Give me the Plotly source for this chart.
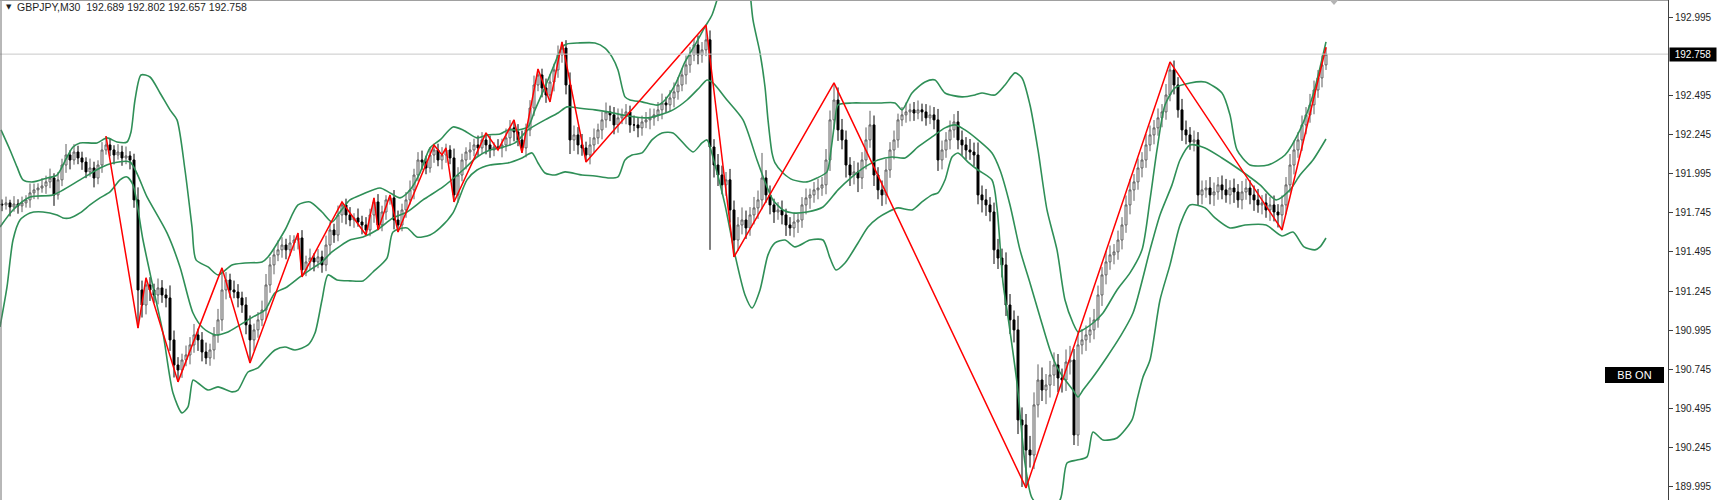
import plotly.graph_objects as go

# ---------------- data (GBPJPY, M30) ----------------
closes = [
 191.795, 191.808, 191.782, 191.801, 191.789, 191.808, 191.827, 191.872, 191.891, 191.903, 191.916, 191.942, 191.967, 191.859, 191.955, 192.050, 192.114, 192.082, 192.133, 192.095,
 192.069, 192.006, 192.031, 191.967, 192.050, 192.146, 192.178, 192.146, 192.114, 192.133, 192.095, 192.108, 192.082, 191.827, 191.252, 191.156, 191.284, 191.252, 191.220, 191.265,
 191.220, 191.201, 190.933, 190.773, 190.741, 190.805, 190.837, 190.901, 190.965, 190.933, 190.856, 190.818, 190.869, 190.965, 191.061, 191.252, 191.316, 191.252, 191.239, 191.201,
 191.156, 191.029, 190.933, 190.997, 191.061, 191.124, 191.284, 191.412, 191.476, 191.508, 191.539, 191.508, 191.552, 191.571, 191.584, 191.380, 191.431, 191.456, 191.431, 191.463,
 191.412, 191.539, 191.635, 191.603, 191.731, 191.795, 191.731, 191.699, 191.712, 191.686, 191.667, 191.635, 191.731, 191.814, 191.667, 191.750, 191.827, 191.840, 191.699, 191.667,
 191.763, 191.827, 191.891, 191.986, 192.082, 192.069, 192.031, 192.114, 192.146, 192.082, 192.114, 192.146, 192.095, 191.859, 191.986, 192.082, 192.133, 192.146, 192.178, 192.159,
 192.210, 192.178, 192.146, 192.165, 192.159, 192.178, 192.223, 192.287, 192.261, 192.210, 192.159, 192.274, 192.414, 192.561, 192.625, 192.542, 192.497, 192.580, 192.657, 192.753,
 192.797, 192.561, 192.210, 192.242, 192.178, 192.159, 192.114, 192.178, 192.223, 192.274, 192.338, 192.389, 192.370, 192.306, 192.351, 192.370, 192.389, 192.306, 192.306, 192.287,
 192.325, 192.338, 192.351, 192.370, 192.402, 192.446, 192.434, 192.478, 192.517, 192.561, 192.625, 192.689, 192.753, 192.817, 192.753, 192.785, 192.849, 192.165, 192.050, 191.986,
 191.923, 191.955, 191.763, 191.571, 191.667, 191.699, 191.648, 191.731, 191.776, 191.827, 191.967, 191.859, 191.795, 191.750, 191.763, 191.731, 191.667, 191.648, 191.686, 191.699,
 191.795, 191.840, 191.859, 191.891, 191.903, 191.923, 192.082, 192.338, 192.465, 192.274, 192.210, 192.050, 191.986, 192.006, 191.967, 192.082, 192.210, 192.306, 191.986, 191.891,
 191.859, 192.018, 192.146, 192.210, 192.338, 192.370, 192.389, 192.402, 192.382, 192.402, 192.389, 192.351, 192.370, 192.338, 192.082, 192.146, 192.210, 192.274, 192.325, 192.210,
 192.178, 192.146, 192.133, 192.114, 191.859, 191.827, 191.795, 191.750, 191.508, 191.456, 191.412, 191.156, 191.061, 190.997, 190.422, 190.390, 190.230, 190.198, 190.518, 190.677,
 190.613, 190.645, 190.709, 190.773, 190.690, 190.677, 190.792, 190.805, 190.326, 190.901, 190.933, 190.965, 190.997, 191.061, 191.220, 191.348, 191.431, 191.476, 191.495, 191.571,
 191.667, 191.795, 191.891, 191.942, 192.031, 192.082, 192.178, 192.242, 192.287, 192.351, 192.389, 192.497, 192.657, 192.561, 192.402, 192.274, 192.242, 192.197, 192.210, 191.859,
 191.891, 191.903, 191.859, 191.878, 191.923, 191.891, 191.859, 191.903, 191.878, 191.827, 191.878, 191.903, 191.859, 191.827, 191.795, 191.808, 191.763, 191.795, 191.750, 191.731,
 191.795, 191.923, 192.050, 192.146, 192.210, 192.306, 192.370, 192.434, 192.529, 192.606, 192.689, 192.758,
]
first_open = 191.800

# wick sizes in pips (upper / lower shadow beyond the body)
wick_up = [
 3,4,2,5,3,4,3,6,4,3,5,4,6,3,5,4,7,3,5,4,
 4,3,6,4,3,5,6,4,3,5,4,6,3,4,8,6,7,5,4,6,
 5,4,8,6,5,4,6,5,7,4,5,6,4,5,7,6,5,4,6,5,
 4,5,6,4,5,6,7,5,4,6,5,4,5,3,4,5,4,6,3,5,
 4,6,5,4,6,3,4,5,3,6,4,5,4,3,5,4,3,4,5,6,
 4,5,6,4,5,6,4,5,3,4,5,4,3,6,5,4,3,5,4,6,
 5,4,6,3,5,4,6,5,4,5,6,4,5,6,5,4,6,5,4,6,
 6,5,8,6,5,7,4,5,6,4,5,6,4,5,6,4,5,4,6,5,
 4,5,6,4,5,6,4,5,6,5,4,6,5,4,6,5,8,6,5,7,
 6,5,7,6,5,8,6,5,7,6,12,5,6,4,5,6,4,5,6,4,
 5,6,4,5,6,5,7,6,6,8,7,6,5,7,6,5,8,9,6,5,
 6,7,5,6,4,5,6,4,5,6,4,5,6,5,7,6,5,6,5,7,
 6,5,7,6,8,6,7,5,6,7,6,8,7,6,9,8,7,9,8,10,
 8,7,9,8,7,6,8,9,7,8,7,6,8,7,6,5,7,6,5,6,
 5,6,7,5,6,5,7,6,5,6,5,7,4,6,5,7,6,5,6,5,
 6,5,7,6,5,6,7,5,6,5,7,6,5,6,7,5,6,5,6,5,
 6,5,7,6,5,6,5,7,6,5,6,4,
]
wick_dn = [
 4,3,6,3,5,4,3,5,4,6,3,5,4,7,3,4,5,6,3,4,
 5,4,3,6,4,5,3,4,6,3,5,4,6,5,12,8,6,7,5,6,
 5,6,7,8,6,5,4,6,5,7,6,4,5,6,5,7,6,5,4,6,
 5,6,4,7,5,4,6,5,6,4,5,6,4,5,6,5,4,5,6,4,
 5,4,6,5,4,5,6,4,5,3,6,5,4,5,6,4,5,3,6,5,
 4,5,3,6,4,5,4,3,5,4,6,5,4,8,5,4,6,5,4,5,
 4,6,5,4,5,6,4,5,6,4,5,6,4,5,4,6,5,4,6,5,
 5,6,9,7,6,5,7,6,5,4,6,5,4,6,5,4,6,5,4,6,
 5,4,6,5,4,6,5,4,6,5,4,6,5,4,6,5,4,16,8,7,
 6,7,8,6,7,6,7,5,6,7,6,5,6,7,5,6,7,5,6,7,
 5,6,7,5,6,5,6,7,6,7,6,8,7,6,9,7,6,5,7,6,
 7,6,5,6,5,4,5,6,5,4,6,5,4,6,7,6,5,6,5,6,
 7,6,5,7,6,8,7,6,9,7,8,7,9,8,9,10,9,8,9,8,
 7,9,8,7,9,8,7,8,9,7,6,7,5,6,5,7,6,5,6,5,
 6,5,6,7,5,6,5,4,6,5,6,5,4,6,5,7,6,5,6,7,
 6,5,6,7,5,6,5,6,7,5,6,5,6,7,5,6,5,7,6,8,
 7,6,5,6,5,7,6,5,6,5,6,5,
]
# extremes (candle index -> price)
high_read = {26: 192.235, 36: 191.330, 55: 191.393, 74: 191.616, 85: 191.814, 93: 191.840,
             97: 191.859, 108: 192.178, 121: 192.255, 128: 192.338, 134: 192.663, 140: 192.836,
             176: 192.944, 190: 192.127, 208: 192.574, 292: 192.708, 331: 192.802}
low_read = {34: 191.009, 44: 190.665, 62: 190.786, 75: 191.335, 91: 191.603, 94: 191.635,
            99: 191.622, 113: 191.814, 124: 192.146, 130: 192.127, 137: 192.453, 146: 192.069,
            177: 191.508, 183: 191.463, 255: 189.994, 256: 189.988, 268: 190.262, 320: 191.635,
            331: 192.657}

# ZigZag swing points
zz_idx = [26, 34, 36, 44, 55, 62, 74, 75, 85, 91, 93, 94, 97, 99, 108, 110, 111, 113, 121, 124,
          128, 130, 134, 137, 140, 146, 176, 183, 208, 256, 292, 320, 331]
zz_price = [192.235, 191.009, 191.330, 190.665, 191.393, 190.786, 191.616, 191.335, 191.814, 191.603,
            191.840, 191.635, 191.859, 191.622, 192.178, 192.114, 192.159, 191.814, 192.255, 192.146,
            192.338, 192.127, 192.663, 192.453, 192.836, 192.069, 192.944, 191.463, 192.574, 189.988,
            192.708, 191.635, 192.802]

# Bollinger Bands (read points)
ub_i = [-0.25, 2, 3.75, 5.25, 7.75, 11.25, 13.75, 16.25, 17.75, 19.5, 23.75, 26.25, 28.75, 31.25, 32.25, 33.25, 34.75, 37, 39.5, 42,
        43.75, 45.75, 47.5, 48.5, 51.5, 54, 57.5, 60.75, 65, 66.5, 70.75, 74, 77, 80, 82.5, 84.5, 87, 90.25, 94.5, 97,
        99.5, 102, 104.5, 107, 109.5, 112.75, 115.25, 118.75, 121.25, 124.5, 126.5, 129, 131.5, 133.25, 135.75, 138.25, 140, 141.25, 144, 148.25,
        150.75, 152.5, 154, 155.75, 157, 160, 164, 165.75, 168.25, 170.75, 173.25, 175.75, 177.5, 179.5, 182, 184.5, 186.5, 187.75, 189.5, 190.75,
        191.5, 192.5, 193.25, 195.25, 197.75, 201.25, 203.75, 206.25, 207.25, 208.25, 209, 212.5, 215.75, 219.5, 223.25, 225, 227.5, 230.75, 233.25, 235.75,
        240, 243.25, 245, 248.25, 250.75, 253.25, 255, 257, 259, 261.25, 263.75, 265.75, 267.75, 269, 270.25, 272.75, 275.25, 278.75, 282, 285,
        287, 288.75, 290.75, 293.25, 297, 300.75, 305, 307, 308.75, 312, 316.5, 320.75, 324.5, 327.75, 331]
ub_p = [192.274, 192.146, 192.038, 191.955, 191.942, 191.967, 191.986, 192.101, 192.165, 192.191, 192.191, 192.223, 192.197, 192.197, 192.261, 192.465, 192.625, 192.612, 192.510, 192.402,
        192.338, 192.018, 191.654, 191.444, 191.399, 191.348, 191.412, 191.424, 191.431, 191.463, 191.635, 191.795, 191.814, 191.750, 191.686, 191.750, 191.827, 191.865, 191.903, 191.872,
        191.840, 191.891, 192.000, 192.159, 192.210, 192.293, 192.274, 192.223, 192.242, 192.248, 192.274, 192.274, 192.293, 192.402, 192.548, 192.702, 192.804, 192.823, 192.829, 192.829,
        192.797, 192.740, 192.657, 192.485, 192.465, 192.453, 192.433, 192.465, 192.561, 192.708, 192.817, 192.932, 193.008, 193.168, 193.391, 193.455, 193.264, 192.976, 192.766, 192.548,
        192.338, 192.127, 192.063, 191.999, 191.955, 191.942, 191.967, 192.006, 192.146, 192.338, 192.433, 192.446, 192.446, 192.446, 192.446, 192.402, 192.510, 192.580, 192.593, 192.510,
        192.485, 192.497, 192.510, 192.497, 192.561, 192.638, 192.606, 192.433, 192.146, 191.763, 191.508, 191.188, 191.041, 190.984, 190.997, 191.041, 191.105, 191.252, 191.361, 191.508,
        191.827, 192.146, 192.433, 192.542, 192.574, 192.580, 192.510, 192.370, 192.146, 192.050, 192.050, 192.114, 192.274, 192.497, 192.836]
mb_i = [-0.5, 2.75, 7, 12.75, 19.5, 24.5, 27.75, 32, 36.25, 41.25, 44.5, 47.75, 50.25, 53.25, 56.5, 59.5, 62.75, 65.75, 68.25, 71.25,
        74.5, 77, 80, 82.5, 87, 90.25, 93.75, 97.75, 101.25, 105.25, 110.25, 115.25, 118.75, 122, 124.5, 128.25, 131.5, 135.75, 139, 141.25,
        144, 148.25, 151.5, 155, 158.25, 161.5, 164.5, 167.75, 171.25, 174.5, 176.25, 177.75, 181.25, 185.25, 188.75, 191.25, 192.75, 195.25, 197.75, 201.25,
        205.25, 209, 212.5, 215.75, 219, 222.5, 225.75, 229, 232.5, 235.75, 238.25, 240.75, 244, 247.5, 249.5, 252, 254.5, 257, 259.5, 262,
        263.75, 265.25, 267.75, 269, 270.25, 272.75, 276.25, 279.5, 282.75, 287, 289.5, 292.5, 294.5, 297, 300.75, 305, 309.5, 314.5, 318.5, 322,
        324.5, 327.75, 331]
mb_p = [191.654, 191.763, 191.846, 191.859, 191.955, 192.031, 192.063, 192.069, 191.846, 191.616, 191.399, 191.105, 191.009, 190.965, 190.984, 191.029, 191.080, 191.124, 191.233, 191.271,
        191.335, 191.380, 191.431, 191.495, 191.571, 191.590, 191.635, 191.712, 191.750, 191.827, 191.910, 192.018, 192.101, 192.146, 192.159, 192.191, 192.274, 192.338, 192.382, 192.421,
        192.414, 192.402, 192.389, 192.370, 192.357, 192.351, 192.370, 192.402, 192.465, 192.548, 192.593, 192.574, 192.465, 192.338, 192.082, 191.910, 191.827, 191.763, 191.744, 191.750,
        191.782, 191.891, 191.974, 192.038, 192.082, 192.101, 192.095, 192.165, 192.229, 192.287, 192.306, 192.274, 192.210, 192.127, 192.018, 191.795, 191.508, 191.297, 191.080, 190.869,
        190.760, 190.696, 190.613, 190.569, 190.613, 190.696, 190.824, 190.952, 191.105, 191.508, 191.731, 191.923, 192.082, 192.178, 192.159, 192.095, 192.018, 191.923, 191.827, 191.891,
        191.986, 192.082, 192.216]
lb_i = [-0.5, 1.25, 2.75, 4.5, 7, 10.25, 13.75, 15.25, 17, 19.5, 22, 24.5, 27, 29.5, 31.25, 32.75, 35.25, 37.75, 40.25, 42.75,
        45, 46.5, 47.75, 49, 51.5, 54, 57.5, 59, 61.5, 64, 65.75, 68.25, 70.75, 73.25, 76.5, 78.25, 80, 81.5, 83.75, 87,
        90.25, 92.75, 96.25, 97.75, 101.25, 103.75, 107, 109.5, 112.75, 116.25, 118.75, 122, 124.5, 126.5, 130, 132.5, 134, 135.75, 138.25, 140.75,
        145, 148.25, 151.5, 154, 155.75, 157.5, 160, 162.5, 165, 167.75, 172.75, 175, 176.25, 178.25, 180.75, 183.25, 185.75, 187.5, 189.5, 191.5,
        193.25, 195.75, 198.25, 202, 205.25, 207, 208.5, 210.75, 214, 216.5, 219, 221.5, 224, 227.5, 230, 232.5, 234, 235.75, 237.5, 239,
        241.5, 244, 247.5, 248.75, 250.25, 251.5, 253.75, 255.75, 257.5, 260.75, 264.5, 266.25, 268.75, 271.25, 272.75, 275.25, 278.75, 282.5, 283.75, 285.25,
        287, 289.5, 292, 294.5, 297, 300.75, 303.25, 307, 310.75, 316, 320, 322.75, 325.5, 328.25, 329.5, 331]
lb_p = [191.016, 191.271, 191.571, 191.699, 191.744, 191.750, 191.731, 191.712, 191.712, 191.744, 191.795, 191.840, 191.878, 191.955, 191.974, 191.923, 191.571, 191.271, 190.977, 190.594,
        190.467, 190.505, 190.677, 190.658, 190.613, 190.633, 190.601, 190.613, 190.728, 190.754, 190.805, 190.869, 190.888, 190.869, 190.901, 190.977, 191.188, 191.348, 191.316, 191.310,
        191.310, 191.367, 191.456, 191.622, 191.648, 191.590, 191.603, 191.648, 191.744, 191.955, 192.018, 192.050, 192.057, 192.063, 192.095, 192.127, 192.063, 191.999, 191.986, 192.006,
        191.986, 191.980, 191.967, 191.974, 192.082, 192.114, 192.127, 192.210, 192.255, 192.255, 192.133, 192.191, 192.210, 192.050, 191.795, 191.476, 191.220, 191.137, 191.252, 191.476,
        191.552, 191.571, 191.527, 191.571, 191.571, 191.456, 191.380, 191.424, 191.552, 191.654, 191.712, 191.750, 191.776, 191.763, 191.814, 191.859, 191.872, 191.954, 192.101, 192.127,
        192.069, 192.018, 191.954, 191.776, 191.297, 191.080, 190.658, 190.147, 189.924, 189.847, 189.911, 190.147, 190.166, 190.186, 190.345, 190.294, 190.307, 190.422, 190.550, 190.696,
        190.805, 191.188, 191.412, 191.667, 191.795, 191.776, 191.712, 191.648, 191.667, 191.667, 191.597, 191.622, 191.527, 191.508, 191.527, 191.584]

price_ticks = [192.995, 192.495, 192.245, 191.995, 191.745, 191.495, 191.245,
               190.995, 190.745, 190.495, 190.245, 189.995]
bid_price = 192.758
title_text = "GBPJPY,M30  192.689 192.802 192.657 192.758"

# ---------------- build OHLC ----------------
N = len(closes)
wu = (wick_up + [4] * N)[:N]
wd = (wick_dn + [4] * N)[:N]
opens = [first_open] + closes[:-1]
highs, lows = [], []
for k in range(N):
    o, c = opens[k], closes[k]
    h = high_read.get(k, max(o, c) + wu[k] * 0.01)
    l = low_read.get(k, min(o, c) - wd[k] * 0.01)
    highs.append(max(h, o, c))
    lows.append(min(l, o, c))
idx = list(range(N))

fig = go.Figure()
fig.add_trace(go.Candlestick(
    x=idx, open=opens, high=highs, low=lows, close=closes,
    increasing=dict(line=dict(color="#5e5e5e", width=1), fillcolor="#ffffff"),
    decreasing=dict(line=dict(color="#000000", width=1), fillcolor="#000000"),
    whiskerwidth=0, showlegend=False, hoverinfo="skip"))

bb_color = "#2f8f57"
for xs, ys in ((ub_i, ub_p), (mb_i, mb_p), (lb_i, lb_p)):
    fig.add_trace(go.Scatter(x=xs, y=ys, mode="lines",
                             line=dict(color=bb_color, width=1.6, shape="spline", smoothing=0.7),
                             showlegend=False, hoverinfo="skip"))

fig.add_trace(go.Scatter(x=zz_idx, y=zz_price, mode="lines",
                         line=dict(color="#ff0000", width=1.5),
                         showlegend=False, hoverinfo="skip"))

y_top, y_bot = 193.1036, 189.9108
fig.update_layout(
    width=1718, height=500,
    margin=dict(l=0, r=50, t=0, b=0),
    paper_bgcolor="white", plot_bgcolor="white",
    xaxis=dict(range=[-0.5, 416.5], showgrid=False, zeroline=False, showticklabels=False,
               ticks="", showline=False, rangeslider=dict(visible=False), fixedrange=True),
    yaxis=dict(range=[y_bot, y_top], side="right", tickvals=price_ticks,
               ticktext=[f"{v:.3f}" for v in price_ticks],
               ticks="outside", ticklen=4, tickcolor="#404040", tickwidth=1,
               showline=True, linecolor="#404040", linewidth=1,
               showgrid=False, zeroline=False, fixedrange=True,
               tickfont=dict(family="Liberation Sans, Arial, sans-serif", size=10, color="#1e1e1e")),
    shapes=[
        dict(type="line", xref="paper", yref="y", x0=0, x1=1, y0=bid_price, y1=bid_price,
             line=dict(color="#c8c8c8", width=1)),
        dict(type="line", xref="paper", yref="paper", x0=0.0006, x1=0.0006, y0=0, y1=1,
             line=dict(color="#707070", width=1)),
        dict(type="line", xref="paper", yref="paper", x0=0, x1=1, y0=0.999, y1=0.999,
             line=dict(color="#a0a0a0", width=1)),
        dict(type="path", xref="x", yref="y",
             path=f"M 331.9,{y_top} L 334.1,{y_top} L 333,{y_top - 0.032} Z",
             fillcolor="#b4b4b4", line=dict(color="#b4b4b4", width=0)),
    ],
    annotations=[
        dict(text="▼", xref="paper", yref="paper", x=0.0022, y=0.986, xanchor="left",
             yanchor="middle", showarrow=False,
             font=dict(family="DejaVu Sans", size=7, color="#1e1e1e")),
        dict(text=title_text, xref="paper", yref="paper", x=0.0088, y=0.986, xanchor="left",
             yanchor="middle", showarrow=False,
             font=dict(family="Liberation Sans, Arial, sans-serif", size=10.5, color="#1e1e1e")),
        dict(text="BB ON", xref="paper", yref="y", x=0.9802, y=190.709, xanchor="center",
             yanchor="middle", showarrow=False, bgcolor="#000000", borderpad=1,
             bordercolor="#000000", borderwidth=1, width=55,
             font=dict(family="Liberation Sans, Arial, sans-serif", size=11, color="#ffffff")),
        dict(text=f"{bid_price:.3f}", xref="paper", yref="y", x=1.0006, y=bid_price, xanchor="left",
             yanchor="middle", showarrow=False, bgcolor="#000000", borderpad=1, width=44,
             font=dict(family="Liberation Sans, Arial, sans-serif", size=10, color="#ffffff")),
    ],
)

fig.write_html("out.html", config={"displayModeBar": False, "staticPlot": True},
               post_script="document.body.style.margin='0px';document.body.style.overflow='hidden';")
